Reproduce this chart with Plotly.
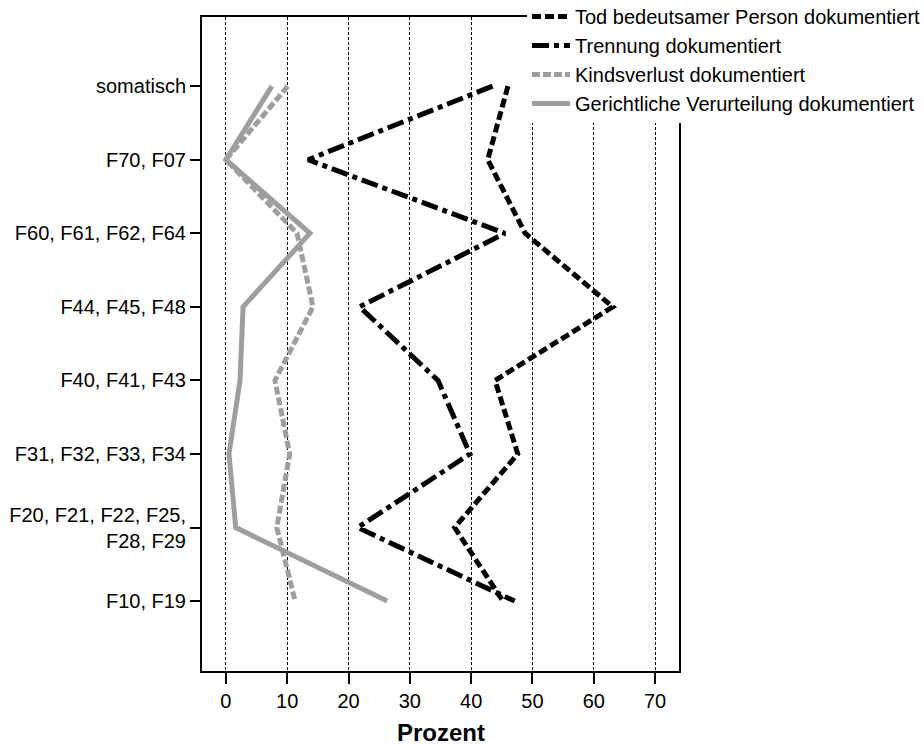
import plotly.graph_objects as go

categories = ["somatisch", "F70, F07", "F60, F61, F62, F64", "F44, F45, F48",
              "F40, F41, F43", "F31, F32, F33, F34",
              "F20, F21, F22, F25,<br>F28, F29", "F10, F19"]

tod = [46.0, 42.7, 48.8, 63.1, 43.9, 47.6, 37.3, 45.2]
trennung = [43.5, 13.4, 45.5, 21.8, 34.6, 39.8, 21.5, 47.1]
kindsverlust = [10.1, 0.0, 11.6, 14.2, 8.0, 10.4, 8.3, 11.3]
verurteilung = [7.5, 0.0, 13.7, 2.8, 2.3, 0.5, 1.6, 26.3]

series_names = ["Tod bedeutsamer Person dokumentiert", "Trennung dokumentiert",
                "Kindsverlust dokumentiert", "Gerichtliche Verurteilung dokumentiert"]

x_ticks = [0, 10, 20, 30, 40, 50, 60, 70]
x_title = "Prozent"

FONT = "Liberation Sans, Arial, sans-serif"
GRAY = "#9e9e9e"

fig = go.Figure()
styles = [
    dict(color="black", width=5, dash="9px,4px"),
    dict(color="black", width=5, dash="17px,5px,5px,5px"),
    dict(color=GRAY, width=5, dash="8px,3px"),
    dict(color=GRAY, width=5, dash="solid"),
]
for name, vals, st in zip(series_names, [tod, trennung, kindsverlust, verurteilung], styles):
    fig.add_trace(go.Scatter(x=vals, y=categories, mode="lines", name=name, line=st))

fig.update_layout(
    width=924, height=745,
    margin=dict(l=202, r=245, t=17, b=74, autoexpand=False),
    plot_bgcolor="white", paper_bgcolor="white",
    font=dict(family=FONT, size=20, color="black"),
    legend=dict(x=(527 - 202) / 477, xanchor="left", y=1 + 20 / 654, yanchor="top",
                bgcolor="white", borderwidth=0, font=dict(size=20),
                tracegroupgap=0, itemwidth=38),
    showlegend=True,
)
fig.add_annotation(text="<b>" + x_title + "</b>", xref="paper", yref="paper",
                   x=0.5, y=-(732 - 671) / 654, xanchor="center", yanchor="middle",
                   showarrow=False, font=dict(size=24, family=FONT, color="black"))
fig.update_xaxes(
    range=[-3.9, 73.9], tickvals=x_ticks, ticktext=[str(t) for t in x_ticks],
    showgrid=True, gridcolor="black", gridwidth=1, griddash="3px,2px",
    zeroline=False, showline=True, linecolor="black", linewidth=2, mirror=True,
    ticks="outside", ticklen=11, tickwidth=2, tickcolor="black", automargin=False,
)
fig.update_yaxes(
    type="category", categoryorder="array", categoryarray=categories[::-1],
    range=[-0.95, 7.94], showgrid=False, zeroline=False, automargin=False,
    showline=True, linecolor="black", linewidth=2, mirror=True,
    ticks="outside", ticklen=10, tickwidth=2, tickcolor="black",
)

fig.write_html("out.html", config={"displayModeBar": False},
               post_script="document.body.style.margin='0';")
